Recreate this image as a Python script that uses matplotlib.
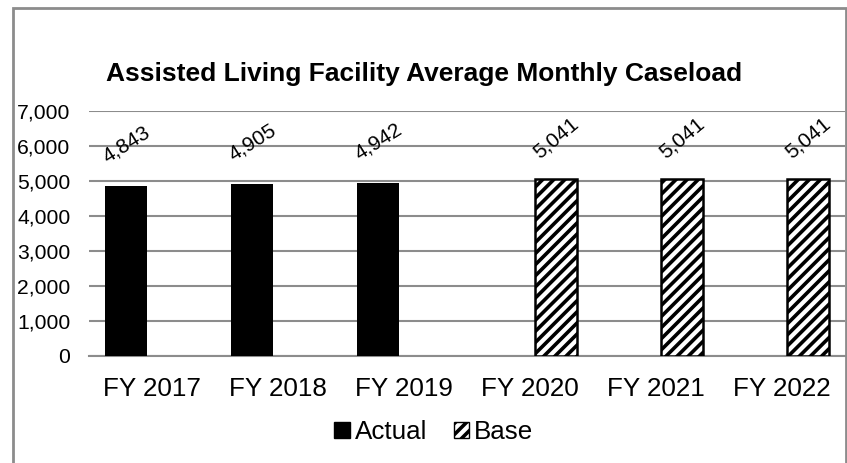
import numpy as np
import matplotlib
matplotlib.use("Agg")
import matplotlib.pyplot as plt
from matplotlib.patches import Patch, Rectangle

# -- data --
years = ["FY 2017", "FY 2018", "FY 2019", "FY 2020", "FY 2021", "FY 2022"]
actual = [4843, 4905, 4942, None, None, None]
base = [None, None, None, 5041, 5041, 5041]
title = "Assisted Living Facility Average Monthly Caseload"

plt.rcParams['font.family'] = ['Liberation Sans', 'DejaVu Sans']
plt.rcParams['hatch.linewidth'] = 2.6

fig = plt.figure(figsize=(8.47, 4.63), dpi=100)
ax = fig.add_axes([89 / 847, 1 - 355.7 / 463, 756 / 847, (355.7 - 110.7) / 463])

x = np.arange(len(years))
w = 0.333
off = 0.207

for i, v in enumerate(actual):
    if v is None:
        continue
    ax.bar(x[i] - off, v, width=w, color="black", zorder=3)
    ax.annotate(f"{v:,}", (x[i] - off, v), xytext=(0, 30), textcoords="offset points",
                ha="center", va="center", rotation=32, fontsize=15)

for i, v in enumerate(base):
    if v is None:
        continue
    ax.bar(x[i] + off, v, width=w, color="white", edgecolor="black", hatch="///",
           linewidth=1.8, zorder=3)
    ax.annotate(f"{v:,}", (x[i] + off, v), xytext=(0, 30), textcoords="offset points",
                ha="center", va="center", rotation=40, fontsize=15)

ax.set_xlim(-0.5, len(years) - 0.5)
ax.set_ylim(0, 7000)
ax.set_yticks(range(0, 7001, 1000))
ax.set_yticklabels([f"{t:,}" for t in range(0, 7001, 1000)], fontsize=15.2)
ax.set_xticks(x)
ax.set_xticklabels(years, fontsize=18.7)
ax.tick_params(axis="both", length=0)
ax.tick_params(axis="y", pad=13.5)
ax.tick_params(axis="x", pad=15.5)
ax.grid(axis="y", color="#8c8c8c", linewidth=1.5, zorder=0)
for s in ["left", "right", "top"]:
    ax.spines[s].set_visible(False)
ax.spines["bottom"].set_color("#8c8c8c")
ax.spines["bottom"].set_linewidth(1.5)

fig.text(424 / 847, 1 - 74 / 463, title, ha="center", va="center",
         fontsize=19, fontweight="bold")

handles = [Patch(facecolor="black", edgecolor="black", label="Actual"),
           Patch(facecolor="white", edgecolor="black", hatch="///", label="Base")]
fig.legend(handles=handles, loc="center", bbox_to_anchor=(434 / 847, 1 - 432 / 463),
           ncol=2, frameon=False, fontsize=18.7, handlelength=0.6, handleheight=0.6,
           handletextpad=0.2, columnspacing=1.0)

# chart border
fig.patches.append(Rectangle((13 / 847, -0.05), (846 - 13) / 847, 1.05 - 8 / 463,
                             transform=fig.transFigure, fill=False,
                             edgecolor="#8c8c8c", linewidth=2))

fig.savefig("out.png", dpi=100)
